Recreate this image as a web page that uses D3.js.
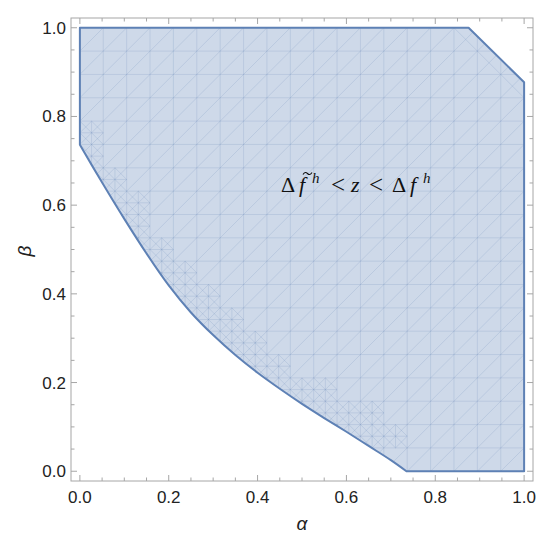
<!DOCTYPE html>
<html>
<head>
<meta charset="utf-8">
<script src="https://cdn.jsdelivr.net/npm/d3@7"></script>
<style>
  body { margin: 0; background: #fff; }
  .tick-label, .axis-label { font-family: "Liberation Sans", Arial, sans-serif; }
  .math { font-family: "Liberation Serif", "DejaVu Serif", serif; }
</style>
</head>
<body>
<div id="chart"></div>
<script>
// lower boundary of the region (alpha, beta)
var curveAlpha = [0, 0.05, 0.10, 0.15, 0.20, 0.25, 0.30, 0.35, 0.40, 0.45, 0.50, 0.55, 0.60, 0.65, 0.70, 0.735];
var curveBeta  = [0.736, 0.651, 0.569, 0.491, 0.419, 0.358, 0.307, 0.262, 0.222, 0.186, 0.152, 0.120, 0.089, 0.057, 0.025, 0];
// straight part of the outline: top edge, cut corner, right edge
var edgeAlpha = [0, 0.875, 1, 1];
var edgeBeta  = [1, 1, 0.877, 0];
var xTicks = [0, 0.2, 0.4, 0.6, 0.8, 1.0];
var yTicks = [0, 0.2, 0.4, 0.6, 0.8, 1.0];
var meshN = 19;

var W = 550, H = 542;
var blue = "#5E81B5";

var svg = d3.select("#chart").append("svg")
  .attr("width", W).attr("height", H);

var x = d3.scaleLinear().domain([-0.02, 1.02]).range([71, 533]);
var y = d3.scaleLinear().domain([-0.022, 1.022]).range([481, 18]);

// outline path
var edgePts = edgeAlpha.map(function(a, i) { return [x(a), y(edgeBeta[i])]; });
var curvePts = curveAlpha.map(function(a, i) { return [x(a), y(curveBeta[i])]; }).reverse();
var straight = d3.line()(edgePts);
var curved = d3.line().curve(d3.curveCatmullRom)(curvePts).replace(/^M/, "L");
var outline = straight + curved + "Z";

svg.append("clipPath").attr("id", "reg")
  .append("path").attr("d", outline);

svg.append("path")
  .attr("d", outline)
  .style("fill", blue)
  .style("fill-opacity", 0.3)
  .style("stroke", "none");

// mesh (like the RegionPlot triangulation)
function lowB(a) {
  if (a >= curveAlpha[curveAlpha.length - 1]) return 0;
  for (var i = 1; i < curveAlpha.length; i++) {
    if (a <= curveAlpha[i]) {
      var t = (a - curveAlpha[i-1]) / (curveAlpha[i] - curveAlpha[i-1]);
      return curveBeta[i-1] + t * (curveBeta[i] - curveBeta[i-1]);
    }
  }
  return 0;
}
var segs = [];
var h = 1 / meshN;
for (var k = 0; k <= meshN; k++) {
  segs.push([0, k*h, 1, k*h]);
  segs.push([k*h, 0, k*h, 1]);
}
for (var k = -meshN; k <= meshN; k++) {
  segs.push([Math.max(0, k*h), Math.max(0, -k*h), Math.min(1, 1 + k*h), Math.min(1, 1 - k*h)]);
}
// refine cells along the lower boundary, add back-diagonals on the corner cut
for (var i = 0; i < meshN; i++) {
  for (var j = 0; j < meshN; j++) {
    var x0 = i*h, x1 = x0 + h, y0 = j*h, y1 = y0 + h;
    var lo = Infinity, hi = -Infinity;
    [[x0,y0],[x1,y0],[x0,y1],[x1,y1]].forEach(function(c) {
      var d = c[1] - lowB(c[0]);
      lo = Math.min(lo, d); hi = Math.max(hi, d);
    });
    var near = lo < 0.7*h && hi > 0 && j > 0;
    var cut = (x0 + y0 < 1.875 + 0.5*h) && (x1 + y1 > 1.875 - 0.5*h);
    if (near) {
      var xm = x0 + h/2, ym = y0 + h/2;
      segs.push([xm, y0, xm, y1], [x0, ym, x1, ym]);
      segs.push([x0, ym, xm, y1], [xm, y0, x1, ym], [x0, ym, xm, y0], [xm, y1, x1, ym]);
      segs.push([x0, y1, x1, y0]);
    }
    if (cut) segs.push([x0, y1, x1, y0]);
  }
}
svg.append("g").attr("clip-path", "url(#reg)")
  .selectAll("line").data(segs).enter().append("line")
  .attr("x1", function(s) { return x(s[0]); })
  .attr("y1", function(s) { return y(s[1]); })
  .attr("x2", function(s) { return x(s[2]); })
  .attr("y2", function(s) { return y(s[3]); })
  .style("stroke", blue)
  .style("stroke-opacity", 0.22)
  .style("stroke-width", 0.8);

svg.append("path")
  .attr("d", outline)
  .style("fill", "none")
  .style("stroke", blue)
  .style("stroke-width", 2)
  .style("stroke-linejoin", "round");

// frame and ticks
var frameCol = "#a6a6a6";
svg.append("rect")
  .attr("x", 71).attr("y", 18).attr("width", 462).attr("height", 463)
  .style("fill", "none").style("stroke", frameCol).style("stroke-width", 1);

var minor = d3.range(0, 21).map(function(d) { return d * 0.05; });
function isMajor(v) { return Math.abs(v*5 - Math.round(v*5)) < 1e-6; }
var tk = svg.append("g").style("stroke", frameCol).style("stroke-width", 1);
minor.forEach(function(v) {
  var L = isMajor(v) ? 6 : 3.5;
  tk.append("line").attr("x1", x(v)).attr("x2", x(v)).attr("y1", 481).attr("y2", 481 - L);
  tk.append("line").attr("x1", x(v)).attr("x2", x(v)).attr("y1", 18).attr("y2", 18 + L);
  tk.append("line").attr("y1", y(v)).attr("y2", y(v)).attr("x1", 71).attr("x2", 71 + L);
  tk.append("line").attr("y1", y(v)).attr("y2", y(v)).attr("x1", 533).attr("x2", 533 - L);
});

svg.append("g").selectAll("text").data(xTicks).enter().append("text")
  .attr("class", "tick-label")
  .attr("x", function(d) { return x(d); })
  .attr("y", 503)
  .attr("text-anchor", "middle")
  .style("font-size", "17px").style("fill", "#222")
  .text(function(d) { return d.toFixed(1); });

svg.append("g").selectAll("text").data(yTicks).enter().append("text")
  .attr("class", "tick-label")
  .attr("x", 66)
  .attr("y", function(d) { return y(d) + 6; })
  .attr("text-anchor", "end")
  .style("font-size", "17px").style("fill", "#222")
  .text(function(d) { return d.toFixed(1); });

// axis labels
svg.append("text")
  .attr("class", "axis-label")
  .attr("x", 302).attr("y", 530)
  .attr("text-anchor", "middle")
  .style("font-size", "19px").style("font-style", "italic").style("fill", "#222")
  .text("α");
svg.append("text")
  .attr("class", "axis-label")
  .attr("transform", "translate(31,251) rotate(-90)")
  .attr("text-anchor", "middle")
  .style("font-size", "19px").style("font-style", "italic").style("fill", "#222")
  .text("β");

// annotation  Δf̃^h < z < Δf^h
var parts = [
  { t: "Δ", x: 281, dy: 0, s: 22, it: false },
  { t: "f", x: 299, dy: 0, s: 22, it: true },
  { t: "h", x: 312, dy: -9, s: 15, it: true },
  { t: "<", x: 331, dy: 1, s: 25, it: false },
  { t: "z", x: 351, dy: 0, s: 22, it: true },
  { t: "<", x: 369, dy: 1, s: 25, it: false },
  { t: "Δ", x: 392, dy: 0, s: 22, it: false },
  { t: "f", x: 410, dy: 0, s: 22, it: true },
  { t: "h", x: 423, dy: -9, s: 15, it: true }
];
var ann = svg.append("g");
ann.selectAll("text").data(parts).enter().append("text")
  .attr("class", "math")
  .attr("x", function(d) { return d.x; })
  .attr("y", function(d) { return 192 + d.dy; })
  .style("font-size", function(d) { return d.s + "px"; })
  .style("font-style", function(d) { return d.it ? "italic" : "normal"; })
  .style("fill", "#111")
  .text(function(d) { return d.t; });
// tilde over the first f
ann.append("path")
  .attr("d", "M303,174.5 C304.5,172 306,172 307.5,173.5 C309,175 310.5,175 312,172.5")
  .style("fill", "none").style("stroke", "#111").style("stroke-width", 1.1);
</script>
</body>
</html>
